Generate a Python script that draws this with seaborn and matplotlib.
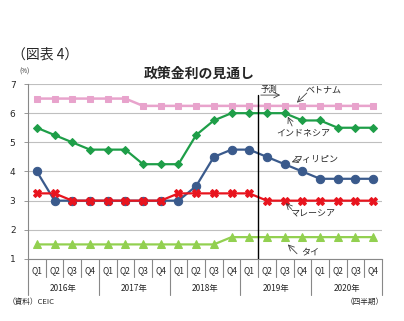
import matplotlib
matplotlib.use("Agg")
import matplotlib.pyplot as plt
import matplotlib.transforms as mtransforms
import seaborn as sns
import pandas as pd
import numpy as np

years = ["2016年", "2017年", "2018年", "2019年", "2020年"]
quarters = ["Q1", "Q2", "Q3", "Q4"]

vietnam = [6.5, 6.5, 6.5, 6.5, 6.5, 6.5, 6.25, 6.25, 6.25, 6.25, 6.25, 6.25, 6.25, 6.25, 6.25, 6.25, 6.25, 6.25, 6.25, 6.25]
indonesia = [5.5, 5.25, 5.0, 4.75, 4.75, 4.75, 4.25, 4.25, 4.25, 5.25, 5.75, 6.0, 6.0, 6.0, 6.0, 5.75, 5.75, 5.5, 5.5, 5.5]
philippines = [4.0, 3.0, 3.0, 3.0, 3.0, 3.0, 3.0, 3.0, 3.0, 3.5, 4.5, 4.75, 4.75, 4.5, 4.25, 4.0, 3.75, 3.75, 3.75, 3.75]
malaysia = [3.25, 3.25, 3.0, 3.0, 3.0, 3.0, 3.0, 3.0, 3.25, 3.25, 3.25, 3.25, 3.25, 3.0, 3.0, 3.0, 3.0, 3.0, 3.0, 3.0]
thailand = [1.5, 1.5, 1.5, 1.5, 1.5, 1.5, 1.5, 1.5, 1.5, 1.5, 1.5, 1.75, 1.75, 1.75, 1.75, 1.75, 1.75, 1.75, 1.75, 1.75]

series_names = ["ベトナム", "インドネシア", "フィリピン", "マレーシア", "タイ"]

sns.set_style("white")
plt.rcParams["font.family"] = ["Noto Sans CJK JP", "DejaVu Sans"]

n = len(vietnam)
idx = np.arange(n)
df = pd.DataFrame({
    "idx": np.tile(idx, 5),
    "rate": vietnam + indonesia + philippines + malaysia + thailand,
    "country": np.repeat(series_names, n),
})

styles = {
    "ベトナム": dict(color="#E8A3CC", marker="s", ms=4, lw=1.8),
    "インドネシア": dict(color="#1E9E48", marker="D", ms=4.5, lw=1.6),
    "フィリピン": dict(color="#3A5A8C", marker="o", ms=6, lw=1.6),
    "マレーシア": dict(color="#E8141E", marker="X", ms=6, lw=1.6),
    "タイ": dict(color="#92D050", marker="^", ms=6, lw=1.6),
}

fig = plt.figure(figsize=(4.04, 3.21), dpi=100)
ax = fig.add_axes([28 / 404, 1 - 259 / 321, 354 / 404, 175 / 321])

for name in series_names:
    st = styles[name]
    sub = df[df["country"] == name]
    sns.lineplot(data=sub, x="idx", y="rate", ax=ax, color=st["color"], marker=st["marker"],
                 markersize=st["ms"], linewidth=st["lw"], markeredgecolor=st["color"],
                 legend=False, zorder=3)

ax.set_xlim(-0.5, n - 0.5)
ax.set_ylim(1, 7)
ax.set_yticks([1, 2, 3, 4, 5, 6, 7])
ax.set_yticklabels(["1", "2", "3", "4", "5", "6", "7"], fontsize=6.5, fontfamily="DejaVu Sans")
ax.tick_params(axis="y", length=3, width=0.6, color="#888888", pad=6, left=True)
ax.set_xticks([])
ax.set_xlabel("")
ax.set_ylabel("")
ax.grid(axis="y", color="#BFBFBF", linewidth=0.8)
ax.set_axisbelow(True)
for s in ["top", "right"]:
    ax.spines[s].set_visible(False)
ax.spines["left"].set_color("#888888")
ax.spines["bottom"].set_color("#888888")
ax.spines["left"].set_linewidth(0.8)
ax.spines["bottom"].set_linewidth(0.8)

# forecast divider
ax.plot([12.5, 12.5], [1, 6.62], color="black", linewidth=1.0, zorder=4)

# x-axis multi-level labels
trans = mtransforms.blended_transform_factory(ax.transData, ax.transAxes)
qsep = -18 / 175
ysep = -36 / 175
for k in range(n + 1):
    xpos = k - 0.5
    length = ysep if k % 4 == 0 else qsep
    ax.plot([xpos, xpos], [0, length], transform=trans, color="#888888", lw=0.8, clip_on=False)
for i in range(n):
    ax.text(i, -12 / 175, quarters[i % 4], transform=trans, ha="center", va="center", fontsize=6)
for j, yr in enumerate(years):
    ax.text(4 * j + 1.5, -29 / 175, yr, transform=trans, ha="center", va="center", fontsize=6)

# annotations
arrow = dict(arrowstyle="->", color="#404040", lw=0.6, shrinkA=0, shrinkB=0)
ax.text(12.62, 6.82, "予測", fontsize=6, ha="left", va="center")
ax.annotate("", xy=(13.75, 6.62), xytext=(12.65, 6.62), arrowprops=arrow)
ax.text(16.2, 6.78, "ベトナム", fontsize=6.5, ha="center", va="center")
ax.annotate("", xy=(14.69, 6.36), xytext=(15.25, 6.69), arrowprops=arrow)
ax.text(15.05, 5.32, "インドネシア", fontsize=6.5, ha="center", va="center")
ax.annotate("", xy=(14.18, 5.88), xytext=(14.42, 5.56), arrowprops=arrow)
ax.text(15.8, 4.4, "フィリピン", fontsize=6.5, ha="center", va="center")
ax.annotate("", xy=(14.4, 4.32), xytext=(14.85, 4.42), arrowprops=arrow)
ax.text(15.55, 2.54, "マレーシア", fontsize=6.5, ha="center", va="center")
ax.annotate("", xy=(14.07, 2.92), xytext=(14.4, 2.7), arrowprops=arrow)
ax.text(15.42, 1.24, "タイ", fontsize=6.5, ha="center", va="center")
ax.annotate("", xy=(14.18, 1.5), xytext=(14.7, 1.18), arrowprops=arrow)

# titles and notes
fig.text(12 / 404, 1 - 55 / 321, "（図表 4）", fontsize=10, ha="left", va="center")
fig.text(199 / 404, 1 - 74 / 321, "政策金利の見通し", fontsize=10, fontweight="bold", ha="center", va="center")
fig.text(24 / 404, 1 - 72 / 321, "(%)", fontsize=4.5, ha="center", va="center")
fig.text(8 / 404, 1 - 302 / 321, "（資料）CEIC", fontsize=5.5, ha="left", va="center")
fig.text(384 / 404, 1 - 302 / 321, "（四半期）", fontsize=5.5, ha="right", va="center")

fig.savefig("out.png", dpi=100)
